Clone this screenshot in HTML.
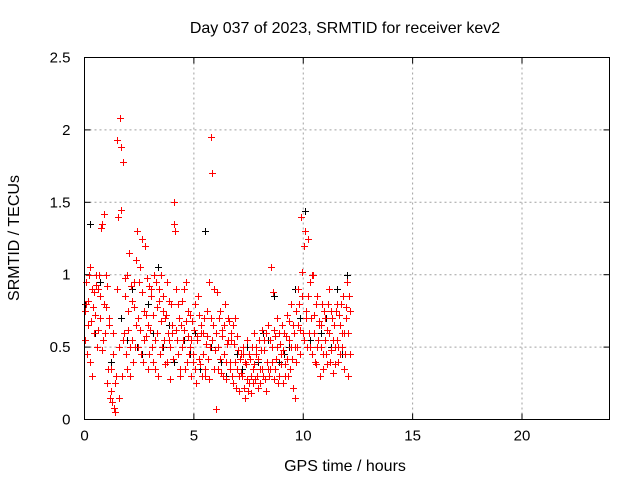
<!DOCTYPE html>
<html><head><meta charset="utf-8"><style>
html,body{margin:0;padding:0;background:#fff;}
svg{display:block;font-family:"Liberation Sans",sans-serif;}
</style></head><body>
<svg id="chart" width="640" height="480" viewBox="0 0 640 480">
<rect width="640" height="480" fill="#fff"/>
<text x="345" y="33" text-anchor="middle" font-size="16">Day 037 of 2023, SRMTID for receiver kev2</text>
<text x="345" y="471" text-anchor="middle" font-size="16">GPS time / hours</text>
<text transform="translate(19,238) rotate(-90)" text-anchor="middle" font-size="16">SRMTID / TECUs</text>
<g id="grid"></g><g id="ticks"></g><g id="pts"></g>
<rect x="84.5" y="57.5" width="525" height="362" fill="none" stroke="#000"/>
</svg>
<script>
const xTicks=[0,5,10,15,20];
const yTicks=[0,0.5,1,1.5,2,2.5];
const yTickLabels=["0","0.5","1","1.5","2","2.5"];
const redTimes=[0,0.06,0.12,0.18,0.24,0.3,0.36,0.42,0.48,0.54,0.6,0.66,0.72,0.78,0.84,0.9,0.96,1.02,1.08,1.14,1.2,1.26,1.32,1.38,1.44,1.5,1.56,1.62,1.68,1.74,1.8,1.86,1.92,1.98,2.04,2.1,2.16,2.22,2.28,2.34,2.4,2.46,2.52,2.58,2.64,2.7,2.76,2.82,2.88,2.94,3.0,3.06,3.12,3.18,3.24,3.3,3.36,3.42,3.48,3.54,3.6,3.66,3.72,3.78,3.84,3.9,3.96,4.02,4.08,4.14,4.2,4.26,4.32,4.38,4.44,4.5,4.56,4.62,4.68,4.74,4.8,4.86,4.92,4.98,5.04,5.1,5.16,5.22,5.28,5.34,5.4,5.46,5.52,5.58,5.64,5.7,5.76,5.82,5.88,5.94,6.0,6.06,6.12,6.18,6.24,6.3,6.36,6.42,6.48,6.54,6.6,6.66,6.72,6.78,6.84,6.9,6.96,7.02,7.08,7.14,7.2,7.26,7.32,7.38,7.44,7.5,7.56,7.62,7.68,7.74,7.8,7.86,7.92,7.98,8.04,8.1,8.16,8.22,8.28,8.34,8.4,8.46,8.52,8.58,8.64,8.7,8.76,8.82,8.88,8.94,9.0,9.06,9.12,9.18,9.24,9.3,9.36,9.42,9.48,9.54,9.6,9.66,9.72,9.78,9.84,9.9,9.96,10.02,10.08,10.14,10.2,10.26,10.32,10.38,10.44,10.5,10.56,10.62,10.68,10.74,10.8,10.86,10.92,10.98,11.04,11.1,11.16,11.22,11.28,11.34,11.4,11.46,11.52,11.58,11.64,11.7,11.76,11.82,11.88,11.94,12.0,12.06,12.12];
const redValuesA=[0.75,0.95,0.45,0.82,1.05,0.68,0.3,0.88,0.72,0.93,
0.62,1.0,0.85,1.35,0.55,1.42,0.78,0.92,0.35,0.65,
0.2,0.12,0.45,0.05,0.3,1.93,0.15,2.08,1.45,1.78,
0.6,0.98,0.35,0.75,1.15,0.5,0.82,0.4,0.95,0.65,
1.3,0.7,1.05,0.45,0.88,0.55,1.2,0.72,0.35,0.92,
0.62,0.85,0.4,1.0,0.55,0.78,0.3,0.9,0.68,0.5,
0.85,0.38,0.72,0.95,0.55,0.28,0.8,0.6,1.5,1.3,
0.9,0.45,0.7,0.35,0.82,0.55,0.62,0.95,0.4,0.75,
0.5,0.3,0.68,0.45,0.8,0.25,0.55,0.72,0.38,0.6,
0.45,0.7,0.3,0.58,0.42,0.95,1.95,1.7,0.65,0.35,
0.07,0.88,0.5,0.75,0.32,0.62,0.45,0.8,0.28,0.55,
0.68,0.4,0.6,0.25,0.52,0.7,0.35,0.48,0.2,0.45,
0.3,0.5,0.15,0.38,0.55,0.25,0.42,0.18,0.35,0.6,
0.28,0.45,0.22,0.55,0.35,0.62,0.3,0.48,0.2,0.4,
0.65,0.35,1.05,0.5,0.28,0.58,0.42,0.7,0.3,0.52,
0.45,0.25,0.6,0.38,0.72,0.3,0.55,0.8,0.42,0.65,
0.15,0.75,0.5,0.9,0.62,1.4,0.85,0.55,1.3,0.7,
1.25,0.6,0.95,0.45,1.0,0.72,0.38,0.85,0.55,0.68,
0.5,0.8,0.35,0.7,0.45,0.62,0.9,0.4,0.75,0.55,
0.65,0.38,0.8,0.5,0.72,0.45,0.6,0.85,0.35,0.7,
0.95,0.3,0.75];
const redValuesB=[0.55,0.8,0.65,1.0,0.4,0.9,0.78,0.6,1.0,0.5,
0.9,0.7,1.32,0.48,0.8,0.6,1.0,0.25,0.7,0.15,
0.35,0.6,0.08,0.25,0.9,1.4,0.5,1.88,0.3,0.55,
0.85,0.45,1.0,0.62,0.3,0.92,0.55,0.78,0.5,1.1,
0.5,0.95,0.62,1.25,0.4,0.75,0.58,0.98,0.65,0.45,
0.9,0.5,0.72,0.35,0.95,0.6,0.82,0.45,1.0,0.75,
0.55,0.7,0.4,0.6,0.82,0.5,0.65,0.42,1.35,0.62,
0.55,0.8,0.3,0.65,0.5,0.9,0.35,0.68,0.58,0.45,
0.72,0.55,0.4,0.62,0.35,0.58,0.85,0.42,0.65,0.3,
0.6,0.35,0.52,0.75,0.28,0.5,0.7,0.55,0.9,0.48,
0.6,0.35,0.7,0.42,0.58,0.3,0.65,0.4,0.52,0.7,
0.35,0.55,0.3,0.65,0.4,0.22,0.58,0.3,0.42,0.32,
0.45,0.22,0.4,0.28,0.2,0.45,0.3,0.5,0.25,0.38,
0.5,0.3,0.42,0.25,0.48,0.35,0.55,0.28,0.6,0.35,
0.3,0.55,0.4,0.88,0.62,0.35,0.5,0.25,0.6,0.38,
0.65,0.48,0.3,0.58,0.42,0.68,0.35,0.5,0.22,0.6,
0.5,0.4,0.65,0.8,0.45,1.02,0.6,1.2,0.75,0.5,
0.85,0.5,0.7,1.0,0.6,0.4,0.8,0.5,0.65,0.3,
0.65,0.45,0.75,0.55,0.38,0.8,0.6,0.48,0.7,0.32,
0.5,0.75,0.55,0.4,0.65,0.8,0.5,0.6,0.45,0.78,
0.6,0.85,0.45];
const blackTimes=[0,0.24,0.48,0.72,0.96,1.2,1.44,1.68,1.92,2.16,2.4,2.64,2.88,3.12,3.36,3.6,3.84,4.08,4.32,4.56,4.8,5.04,5.28,5.52,5.76,6.0,6.24,6.48,6.72,6.96,7.2,7.44,7.68,7.92,8.16,8.4,8.64,8.88,9.12,9.36,9.6,9.84,10.08,10.32,10.56,10.8,11.04,11.28,11.52,11.76,12.0];
const blackValues=[0.8,1.35,0.6,0.95,1.0,0.4,0.3,0.7,0.55,0.9,0.5,0.45,0.8,0.6,1.05,0.5,0.65,0.4,0.7,0.55,0.45,0.6,0.35,1.3,0.5,0.6,0.4,0.3,0.55,0.45,0.35,0.5,0.25,0.4,0.6,0.55,0.85,0.4,0.45,0.5,0.9,0.7,1.44,0.55,0.8,0.6,0.7,0.5,0.9,0.45,1.0];

const X0=84.5,X1=609.5,Y0=419.5,Y1=57.5;
function sx(t){return X0+(t/24)*(X1-X0);}
function sy(v){return Y0-(v/2.5)*(Y0-Y1);}
const NS="http://www.w3.org/2000/svg";
function mk(tag,attrs,parent){const e=document.createElementNS(NS,tag);for(const k in attrs)e.setAttribute(k,attrs[k]);parent.appendChild(e);return e;}
const grid=document.getElementById('grid'),ticks=document.getElementById('ticks'),pts=document.getElementById('pts');
xTicks.forEach(t=>{const x=sx(t);
 if(t>0){const g=mk('line',{x1:x,x2:x,y1:Y1,y2:Y0,stroke:'#a0a0a0','stroke-dasharray':'2,3'},grid);
 
 }
 mk('line',{x1:x,x2:x,y1:Y0,y2:Y0-6,stroke:'#000'},ticks);
 mk('line',{x1:x,x2:x,y1:Y1,y2:Y1+6,stroke:'#000'},ticks);
 const l=mk('text',{x:x,y:Y0+21,'text-anchor':'middle','font-size':15},ticks);l.textContent=String(t);
 
 
});
yTicks.forEach((v,i)=>{const y=sy(v);
 if(v>0&&v<2.5){const g=mk('line',{x1:X0,x2:X1,y1:y,y2:y,stroke:'#a0a0a0','stroke-dasharray':'2,3'},grid);
 
 }
 mk('line',{x1:X0,x2:X0+6,y1:y,y2:y,stroke:'#000'},ticks);
 mk('line',{x1:X1,x2:X1-6,y1:y,y2:y,stroke:'#000'},ticks);
 const l=mk('text',{x:X0-14,y:y+5,'text-anchor':'end','font-size':15},ticks);l.textContent=yTickLabels[i];
 
 
});
function plus(t,v,color,name){const x=Math.round(sx(t))+0.5,y=Math.round(sy(v))+0.5;
 const p=mk('path',{d:`M${x-3.5},${y}H${x+3.5}M${x},${y-3.5}V${y+3.5}`,stroke:color,'stroke-width':1,fill:'none'},pts);
 
 
}
blackTimes.forEach((t,i)=>plus(t,blackValues[i],'#000','black-point'));
redTimes.forEach((t,i)=>plus(t,redValuesA[i],'#ff0000','red-point'));
redTimes.forEach((t,i)=>plus(t+0.03,redValuesB[i],'#ff0000','red-point'));
</script>
</body></html>
